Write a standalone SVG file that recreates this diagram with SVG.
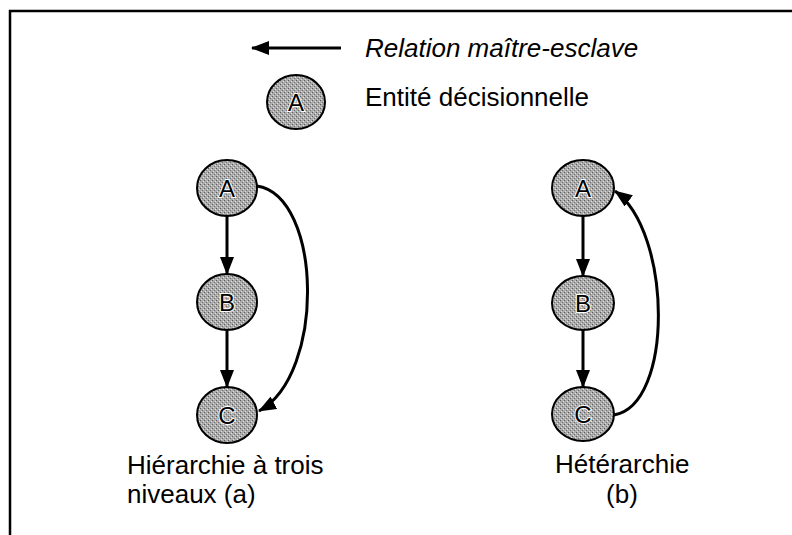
<svg xmlns="http://www.w3.org/2000/svg" width="792" height="535" viewBox="0 0 792 535">
<defs>
<marker id="ah" viewBox="0 0 18 14" refX="17" refY="7" markerWidth="18" markerHeight="14" markerUnits="userSpaceOnUse" orient="auto">
<path d="M0,0 L18,7 L0,14 Z" fill="#000"/>
</marker>
<pattern id="stip" width="4" height="4" patternUnits="userSpaceOnUse">
<rect width="4" height="4" fill="#ababab"/>
<rect x="0" y="0" width="1" height="1" fill="#5a5a5a"/>
<rect x="2" y="2" width="1" height="1" fill="#6e6e6e"/>
<rect x="3" y="1" width="1" height="1" fill="#e4e4e4"/>
<rect x="1" y="3" width="1" height="1" fill="#dcdcdc"/>
</pattern>
</defs>
<style>
.node ellipse{fill:url(#stip);stroke:#000;stroke-width:2}
.lbl{font-family:"Liberation Sans",Arial,sans-serif;font-size:24px;fill:#000;text-anchor:middle;stroke:#fff;stroke-width:2;paint-order:stroke}
.txt{font-family:"Liberation Sans",Arial,sans-serif;font-size:26px;fill:#000}
.edge{fill:none;stroke:#000;stroke-width:3}
</style>
<rect x="10" y="11" width="800" height="540" fill="#fff" stroke="#000" stroke-width="2.5"/>

<g id="legend">
<line class="edge" x1="341" y1="48" x2="252" y2="48" marker-end="url(#ah)"/>
<text class="txt" x="365" y="57" font-style="italic">Relation maître-esclave</text>
<g class="node"><ellipse cx="296" cy="102" rx="29" ry="27"/><text class="lbl" x="296" y="111">A</text></g>
<text class="txt" x="365" y="106">Entité décisionnelle</text>
</g>

<g id="nodeA1" class="node"><ellipse cx="227" cy="188" rx="30" ry="28"/><text class="lbl" x="227" y="197">A</text></g>
<g id="nodeB1" class="node"><ellipse cx="227" cy="302" rx="30" ry="28"/><text class="lbl" x="227" y="311">B</text></g>
<g id="nodeC1" class="node"><ellipse cx="227" cy="415" rx="30" ry="28"/><text class="lbl" x="227" y="424">C</text></g>

<g id="nodeA2" class="node"><ellipse cx="583" cy="188" rx="31" ry="28"/><text class="lbl" x="583" y="197">A</text></g>
<g id="nodeB2" class="node"><ellipse cx="583" cy="303" rx="31" ry="27"/><text class="lbl" x="583" y="312">B</text></g>
<g id="nodeC2" class="node"><ellipse cx="583" cy="414" rx="31" ry="27"/><text class="lbl" x="583" y="423">C</text></g>

<g id="connectors">
<line class="edge" x1="227" y1="216" x2="227" y2="274" marker-end="url(#ah)"/>
<line class="edge" x1="227" y1="330" x2="227" y2="387" marker-end="url(#ah)"/>
<path class="edge" d="M257,186 C322,196 326,374 259,411" marker-end="url(#ah)"/>
<line class="edge" x1="583" y1="216" x2="583" y2="276" marker-end="url(#ah)"/>
<line class="edge" x1="583" y1="330" x2="583" y2="387" marker-end="url(#ah)"/>
<path class="edge" d="M614,415 C674,405 672,232 615,191" marker-end="url(#ah)"/>
</g>

<g id="captions">
<text class="txt" x="127" y="474">Hiérarchie à trois</text>
<text class="txt" x="127" y="503">niveaux (a)</text>
<text class="txt" x="555" y="473">Hétérarchie</text>
<text class="txt" x="622" y="503" text-anchor="middle">(b)</text>
</g>
</svg>
